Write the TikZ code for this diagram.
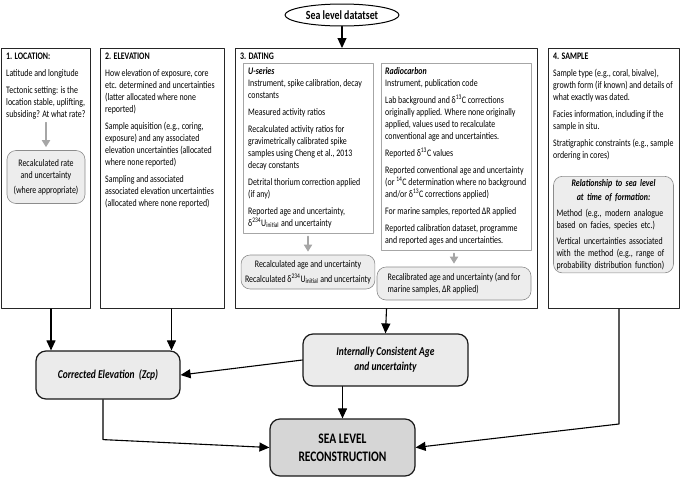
\documentclass[tikz,border=0pt]{standalone}
\usepackage{fontspec}
\setmainfont{Carlito}[FakeStretch=0.79]
\usepackage{tikz}
\usetikzlibrary{arrows.meta}
\usetikzlibrary{shapes.geometric}
\newcommand{\fs}{\fontsize{10}{12}\selectfont}

\tikzset{
  colbox/.style={draw=black!85, line width=1pt, anchor=north west, inner sep=0pt},
  subbox/.style={draw=black!35, line width=0.6pt, anchor=north west, inner sep=0pt},
  resbox/.style={draw=black!45, fill=black!7, rounded corners=9pt, line width=0.6pt, align=center, inner sep=4pt, font=\fs},
  txt/.style={anchor=north west, align=left, inner sep=0pt, font=\fs},
  outbox/.style={draw=black!90, fill=black!8, rounded corners=10pt, line width=1.2pt, align=center},
  garr/.style={-{Triangle[length=7pt,width=8pt]}, draw=black!35, line width=1.8pt, shorten <=3pt, shorten >=3pt},
  barr/.style={-{Triangle[length=10pt,width=9pt]}, line width=1.1pt}
}

\begin{document}
\begin{tikzpicture}[line cap=round,line join=round,x=1pt,y=-1pt]
\useasboundingbox (0,0) rectangle (685,477);
% the four columns
\node[colbox, minimum width=89, minimum height=260] (loc) at (1,48) {};
\node[colbox, minimum width=124, minimum height=260] (elev) at (100,48) {};
\node[colbox, minimum width=302, minimum height=260] (dating) at (235,48) {};
\node[colbox, minimum width=131, minimum height=260] (sample) at (548,48) {};
% dataset
\node[draw, ellipse, line width=1pt, fill=white, minimum width=114, minimum height=22, inner sep=0pt, font=\bfseries\fontsize{12.5}{14}\selectfont] (ds) at (342,15) {Sea level datatset};
\draw[barr] (ds.south) -- (ds.south |- dating.north);

% 1. location
\node[txt] (loctext) at (6,53) {\textbf{1. LOCATION:}\\[5pt]
Latitude and longitude\\[5pt]
Tectonic setting: is the\\ location stable, uplifting,\\ subsiding? At what rate?};
\node[resbox, minimum width=78, minimum height=53] (locres) at (46,177) {Recalculated rate\\ and uncertainty\\[3pt] (where appropriate)};
\draw[garr] (locres.north |- loctext.south) -- (locres.north);

% 2. elevation
\node[txt] (elevtext) at (105,53) {\textbf{2. ELEVATION}\\[5pt]
How elevation of exposure, core\\ etc. determined and uncertainties\\ (latter allocated where none\\ reported)\\[5pt]
Sample aquisition (e.g., coring,\\ exposure) and any associated\\ elevation uncertainties (allocated\\ where none reported)\\[5pt]
Sampling and associated\\ associated elevation uncertainties\\ (allocated where none reported)};

% 3. dating
\node[txt] (datingtext) at (240,53) {\textbf{3. DATING}};
\node[subbox, minimum width=130, minimum height=170] (ubox) at (243,63) {};
\node[txt] (utext) at (248,67) {\textbf{\textit{U-series}}\\
Instrument, spike calibration, decay\\ constants\\[5pt]
Measured activity ratios\\[5pt]
Recalculated activity ratios for\\ gravimetrically calibrated spike\\ samples using Cheng et al., 2013\\ decay constants\\[5pt]
Detrital thorium correction applied\\ (if any)\\[5pt]
Reported age and uncertainty,\\ δ\textsuperscript{234}U\textsubscript{initial} and uncertainty};
\node[resbox, minimum width=130, minimum height=34] (ures) at (308,272) {Recalculated age and uncertainty\\[3pt]
Recalculated δ\textsuperscript{234}U\textsubscript{initial} and uncertainty};
\draw[garr] (ures.north |- ubox.south) -- (ures.north);

\node[subbox, minimum width=150, minimum height=187] (rcbox) at (381,63) {};
\node[txt] (rctext) at (385,67) {\textbf{\textit{Radiocarbon}}\\
Instrument, publication code\\[5pt]
Lab background and δ\textsuperscript{13}C corrections\\ originally applied. Where none originally\\ applied, values used to recalculate\\ conventional age and uncertainties.\\[5pt]
Reported δ\textsuperscript{13}C values\\[5pt]
Reported conventional age and uncertainty\\ (or \textsuperscript{14}C determination where no background\\ and/or δ\textsuperscript{13}C corrections applied)\\[5pt]
For marine samples, reported ΔR applied\\[5pt]
Reported calibration dataset, programme\\ and reported ages and uncertainties.};
\node[resbox, align=left, minimum width=154, minimum height=33] (rcres) at (454,283.5) {Recalibrated age and uncertainty (and for\\ marine samples, ΔR applied)};
\draw[garr] (rcres.north |- rcbox.south) -- (rcres.north);

% 4. sample
\node[txt] (samptext) at (553,53) {\textbf{4. SAMPLE}\\[5pt]
Sample type (e.g., coral, bivalve),\\ growth form (if known) and details of\\ what exactly was dated.\\[5pt]
Facies information, including if the\\ sample in situ.\\[5pt]
Stratigraphic constraints (e.g., sample\\ ordering in cores)};
\node[resbox, align=left, text width=114, anchor=north, inner sep=3pt] (sampres) at (613.5,176) {\vspace{2pt}{\centering\bfseries\itshape Relationship to sea level\\ at time of formation:\par}
\vspace{4pt}
Method (e.g., modern analogue\\ based on facies, species etc.)\par
\vspace{4pt}
Vertical uncertainties associated\\ with the method (e.g., range of\\ probability distribution function)\par\vspace{3pt}};

% results
\node[outbox, minimum width=144, minimum height=48, font=\bfseries\itshape\fontsize{12}{14}\selectfont] (corr) at (108,375) {Corrected Elevation\ \ (Zcp)};
\node[outbox, minimum width=165, minimum height=52, font=\bfseries\itshape\fontsize{12}{15}\selectfont] (ic) at (385.5,360) {Internally Consistent Age\\ and uncertainty};
\node[outbox, fill=black!16, minimum width=145, minimum height=57, font=\bfseries\fontsize{14.5}{18}\selectfont] (sl) at (342.5,447.5) {SEA LEVEL\\ RECONSTRUCTION};

\coordinate (locout) at ([xshift=5pt]loc.south);
\coordinate (elevout) at ([xshift=9pt]elev.south);
\coordinate (corrout) at ([xshift=-5pt]corr.south);
\coordinate (sampout) at ([xshift=5pt]sample.south);
\draw[barr] (locout) -- (locout |- corr.north);
\draw[barr] (elevout) -- (elevout |- corr.north);
\draw[barr] (dating.south) -- (ic.north);
\draw[barr] (ic.west) -- (corr.east);
\draw[barr] (ic.south -| sl.north) -- (sl.north);
\draw[barr] (corrout) -- ++(0,40) -- (sl.west);
\draw[barr] (sampout) -- ++(0,115) -- (sl.east);
\end{tikzpicture}
\end{document}
